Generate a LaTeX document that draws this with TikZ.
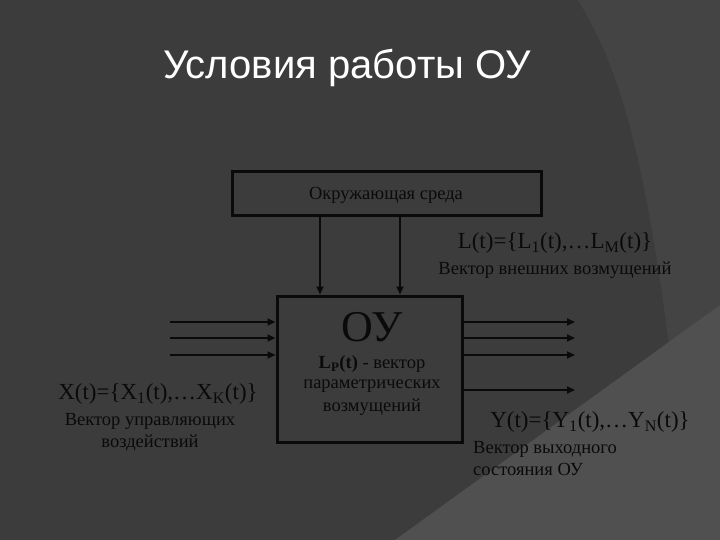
\documentclass[tikz,border=0pt]{standalone}
\usepackage{fontspec}
\setmainfont{Liberation Serif}
\newfontfamily\titlefont{Liberation Sans}
\usetikzlibrary{arrows.meta}
\definecolor{bg}{HTML}{3C3C3C}
\definecolor{bgl}{HTML}{444444}
\definecolor{bgll}{HTML}{505050}
\definecolor{ink}{HTML}{0A0A0A}
\begin{document}
\begin{tikzpicture}[x=1pt,y=-1pt,
  blk/.style={draw=ink,line width=3pt,inner sep=0pt},
  arr/.style={draw=ink,line width=1.8pt,-{Triangle[length=8pt,width=7pt]}},
  lbl/.style={text=ink,inner sep=0pt},
  big/.style={font=\fontsize{23}{25}\selectfont},
  small/.style={font=\fontsize{18.5}{20}\selectfont}]
\useasboundingbox (0,0) rectangle (720,540);
\fill[bg] (0,0) rectangle (720,540);
\fill[bgl] (578,0) .. controls (620,70) and (655,160) .. (690,540) -- (720,540) -- (720,0) -- cycle;
\fill[bgll] (395,540) -- (720,305) -- (720,540) -- cycle;
\node[text=white,font=\titlefont\fontsize{40}{42}\selectfont] (title) at (347,68) {Условия работы ОУ};
\node[blk,minimum width=309pt,minimum height=44pt] (env) at (386.5,194) {};
\node[lbl,small] (envt) at (386,195) {Окружающая среда};
\node[blk,minimum width=185pt,minimum height=146pt] (ou) at (369.5,369) {};
\node[lbl,font=\fontsize{44}{46}\selectfont] (out) at (372,327) {ОУ};
\node[lbl,small] (lp) at (372,364) {\textbf{L\textsubscript{P}(t)} - вектор};
\node[lbl,small] (lp2) at (372,386) {параметрических};
\node[lbl,small] (lp3) at (372,407) {возмущений};
\coordinate (e1) at (320,216); \coordinate (e2) at (400,216);
\draw[arr] (e1) -- (e1 |- ou.north);
\draw[arr] (e2) -- (e2 |- ou.north);
\node[lbl,big] (lt) at (555,243) {L(t)=\{L\textsubscript{1}(t),\ldots L\textsubscript{M}(t)\}};
\node[lbl,small] (ltd) at (555,270) {Вектор внешних возмущений};
\foreach \i/\y in {1/322,2/338,3/355}{
  \coordinate (xi\i) at (170,\y);
  \draw[arr] (xi\i) -- (xi\i -| ou.west);
}
\foreach \i/\y in {1/322,2/338,3/355,4/390}{
  \coordinate (yo\i) at (575,\y);
  \draw[arr] (yo\i -| ou.east) -- (yo\i);
}
\node[lbl,big] (xt) at (158,394) {X(t)=\{X\textsubscript{1}(t),\ldots X\textsubscript{K}(t)\}};
\node[lbl,small] (xd1) at (150,421) {Вектор управляющих};
\node[lbl,small] (xd2) at (150,443) {воздействий};
\node[lbl,big] (yt) at (590,422) {Y(t)=\{Y\textsubscript{1}(t),\ldots Y\textsubscript{N}(t)\}};
\node[lbl,small,anchor=west] (yd1) at (473,449) {Вектор выходного};
\node[lbl,small,anchor=west] (yd2) at (473,469) {состояния ОУ};
\end{tikzpicture}
\end{document}
